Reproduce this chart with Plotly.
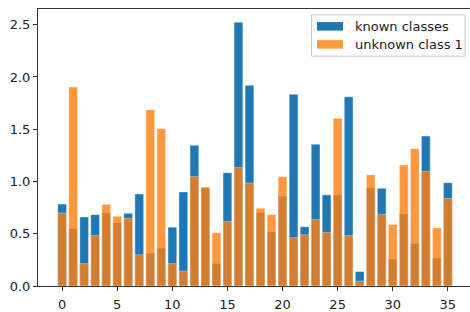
import plotly.graph_objects as go

categories = list(range(36))
known_classes = [0.784, 0.548, 0.661, 0.683, 0.699, 0.604, 0.696, 0.881, 0.315, 0.362,
                 0.563, 0.900, 1.347, 0.935, 0.214, 1.083, 2.524, 1.920, 0.702, 0.519,
                 0.859, 1.835, 0.567, 1.357, 0.872, 0.872, 1.810, 0.138, 0.941, 0.935,
                 0.258, 0.689, 0.406, 1.435, 0.268, 0.988]
unknown_class_1 = [0.699, 1.904, 0.214, 0.482, 0.781, 0.667, 0.648, 0.299, 1.687, 1.505,
                   0.214, 0.142, 1.048, 0.947, 0.510, 0.617, 1.133, 0.985, 0.743, 0.683,
                   1.045, 0.463, 0.491, 0.636, 0.513, 1.605, 0.482, 0.047, 1.064, 0.686,
                   0.589, 1.158, 1.313, 1.098, 0.557, 0.837]
x_ticks = [0, 5, 10, 15, 20, 25, 30, 35]
y_ticks = [0.0, 0.5, 1.0, 1.5, 2.0, 2.5]
series_names = ["known classes", "unknown class 1"]

BLUE = "#1f77b4"
ORANGE = "#ff7f0e"
FONT = "DejaVu Sans"

W, H = 470, 312
L, R, T, B = 38, 0, 9, 21
pw, ph = W - L - R, H - T - B

fig = go.Figure()
fig.add_trace(go.Bar(x=categories, y=known_classes, name=series_names[0], width=0.8,
                     marker=dict(color=BLUE, line=dict(color="rgba(255,255,255,0.55)", width=0.8)),
                     showlegend=False, hoverinfo="skip"))
fig.add_trace(go.Bar(x=categories, y=unknown_class_1, name=series_names[1], width=0.8,
                     marker=dict(color=ORANGE, opacity=0.8,
                                 line=dict(color="rgba(255,255,255,0.55)", width=0.8)),
                     showlegend=False, hoverinfo="skip"))

ymax = max(max(known_classes), max(unknown_class_1)) * 1.05
x0 = -0.4 - 0.05 * 35.8
px_per_unit = 11.02
x1 = x0 + pw / px_per_unit

# helpers: convert reference pixels to paper coordinates
def px(xp):
    return (xp - L) / pw

def py(yp):
    return (H - B - yp) / ph

shapes = []
bx0, bx1, by0, by1 = px(311.5), px(465), py(57), py(15)
shapes.append(dict(type="rect", xref="paper", yref="paper", x0=bx0, x1=bx1, y0=by0, y1=by1,
                   line=dict(color="#cccccc", width=1), fillcolor="rgba(255,255,255,0.8)", layer="above"))
patches = [(22.3, 31.0, BLUE), (40.7, 49.3, "rgba(255,127,14,0.8)")]
for (ya, yb, col) in patches:
    shapes.append(dict(type="rect", xref="paper", yref="paper", x0=px(317), x1=px(343),
                       y0=py(yb), y1=py(ya), line=dict(width=0), fillcolor=col, layer="above"))

annotations = []
for name, yc in zip(series_names, [26.7, 45.0]):
    annotations.append(dict(text=name, xref="paper", yref="paper", x=px(352.5), y=py(yc),
                            xanchor="left", yanchor="middle", showarrow=False,
                            font=dict(family=FONT, size=13, color="#222222")))

fig.update_layout(
    width=W, height=H, margin=dict(l=L, r=R, t=T, b=B, pad=0),
    paper_bgcolor="white", plot_bgcolor="white",
    barmode="overlay", bargap=0, hovermode=False,
    font=dict(family=FONT, size=13, color="#222222"),
    shapes=shapes, annotations=annotations,
    xaxis=dict(range=[x0, x1], tickmode="array", tickvals=x_ticks, ticktext=[str(v) for v in x_ticks],
               showgrid=False, zeroline=False, showline=True, mirror=True, linecolor="#333333",
               linewidth=1, ticks="outside", ticklen=4, tickwidth=1, tickcolor="#333333",
               ticklabelstandoff=2, fixedrange=True),
    yaxis=dict(range=[0, ymax], tickmode="array", tickvals=y_ticks,
               ticktext=[f"{v:.1f}" for v in y_ticks],
               showgrid=False, zeroline=False, showline=True, mirror=False, linecolor="#333333",
               linewidth=1, ticks="outside", ticklen=4, tickwidth=1, tickcolor="#333333",
               fixedrange=True),
)

fig.write_html("out.html",
               config={"displayModeBar": False, "staticPlot": True},
               post_script="document.body.style.margin='0';document.body.style.overflow='hidden';")
